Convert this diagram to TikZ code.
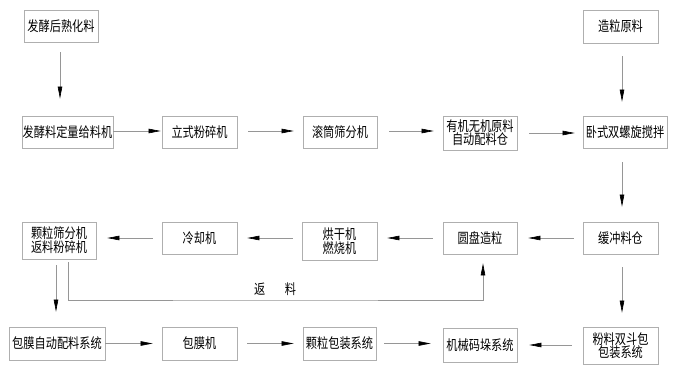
\documentclass[tikz,border=0pt]{standalone}
\usepackage{fontspec}
\newfontfamily\cjk[FakeStretch=0.8]{Noto Sans CJK SC}
\usetikzlibrary{arrows.meta}
\definecolor{boxc}{RGB}{175,175,175}
\definecolor{linec}{RGB}{150,150,150}
\tikzset{
  bx/.style={draw=boxc,line width=0.7pt,inner sep=0pt,align=center,
    font=\cjk\fontsize{14}{14}\selectfont},
  arr/.style={draw=linec,line width=0.6pt,
    -{Triangle[length=12pt,width=4.5pt,color=black,fill=black]}},
  ln/.style={draw=linec,line width=0.6pt}
}
\begin{document}
\begin{tikzpicture}[x=1pt,y=-1pt]
\useasboundingbox (0,0) rectangle (677,382);
\fill[white] (0,0) rectangle (677,382);
% row 1
\node[bx,minimum width=74pt,minimum height=32pt] (n1) at (61,26) {发酵后熟化料};
\node[bx,minimum width=75pt,minimum height=33pt] (n2) at (620.5,26.5) {造粒原料};
% row 2
\node[bx,minimum width=91pt,minimum height=32pt] (r2a) at (67.5,132) {发酵料定量给料机};
\node[bx,minimum width=75pt,minimum height=32pt] (r2b) at (199.5,132) {立式粉碎机};
\node[bx,minimum width=74pt,minimum height=32pt] (r2c) at (340,132) {滚筒筛分机};
\node[bx,minimum width=74pt,minimum height=34pt] (r2d) at (480,133) {有机无机原料\\[-1pt]自动配料仓};
\node[bx,minimum width=84pt,minimum height=32pt] (r2e) at (625,132) {卧式双螺旋搅拌};
% row 3
\node[bx,minimum width=74pt,minimum height=37pt] (r3a) at (59,240.5) {颗粒筛分机\\返料粉碎机};
\node[bx,minimum width=75pt,minimum height=32pt] (r3b) at (199.5,238) {冷却机};
\node[bx,minimum width=75pt,minimum height=38pt] (r3c) at (339.5,241) {烘干机\\燃烧机};
\node[bx,minimum width=74pt,minimum height=32pt] (r3d) at (480,238) {圆盘造粒};
\node[bx,minimum width=75pt,minimum height=32pt] (r3e) at (620.5,238) {缓冲料仓};
% row 4
\node[bx,minimum width=96pt,minimum height=33pt] (r4a) at (57,343.5) {包膜自动配料系统};
\node[bx,minimum width=75pt,minimum height=33pt] (r4b) at (199.5,343.5) {包膜机};
\node[bx,minimum width=73pt,minimum height=33pt] (r4c) at (339.5,343.5) {颗粒包装系统};
\node[bx,minimum width=74pt,minimum height=34pt] (r4d) at (480,345) {机械码垛系统};
\node[bx,minimum width=75pt,minimum height=37pt] (r4e) at (620.5,345.5) {粉料双斗包\\[-1pt]包装系统};
% vertical arrows
\draw[arr,shorten <=10pt,shorten >=17pt] ([xshift=-1pt]n1.south) -- ([xshift=-1pt]n1.south |- r2a.north);
\draw[arr,shorten <=13pt,shorten >=14pt] ([xshift=1.5pt]n2.south) -- ([xshift=1.5pt]n2.south |- r2e.north);
\draw[arr,shorten <=14pt,shorten >=15pt] ([xshift=-3pt]r2e.south) -- ([xshift=-3pt]r2e.south |- r3e.north);
\draw[arr,shorten <=13pt,shorten >=14pt] ([xshift=1.5pt]r3e.south) -- ([xshift=1.5pt]r3e.south |- r4e.north);
\draw[arr,shorten <=6pt,shorten >=15pt] ([xshift=-3pt]r3a.south) -- ([xshift=-3pt]r3a.south |- r4a.north);
% return loop
\coordinate (ret) at (275,300);
\draw[arr,shorten <=3pt,shorten >=9pt] ([xshift=9pt]r3a.south) |- (ret) -| ([xshift=3pt]r3d.south);
\node[font=\cjk\fontsize{14}{14}\selectfont,inner sep=0pt] (retl) at (275,289) {返\hspace{1.4em}料};
% row 2 arrows
\draw[arr,shorten <=0pt,shorten >=1pt] ([yshift=1pt]r2a.east) -- ([yshift=1pt]r2a.east -| r2b.west);
\draw[arr,shorten <=11pt,shorten >=9pt] ([yshift=1pt]r2b.east) -- ([yshift=1pt]r2b.east -| r2c.west);
\draw[arr,shorten <=12pt,shorten >=9pt] ([yshift=1pt]r2c.east) -- ([yshift=1pt]r2c.east -| r2d.west);
\draw[arr,shorten <=12pt,shorten >=8pt] (r2d.east) -- (r2d.east -| r2e.west);
% row 3 arrows
\draw[arr,shorten <=9pt,shorten >=11pt] (r3e.west) -- (r3e.west -| r3d.east);
\draw[arr,shorten <=10pt,shorten >=10pt] (r3d.west) -- (r3d.west -| r3c.east);
\draw[arr,shorten <=9pt,shorten >=10pt] (r3c.west |- r3b.east) -- (r3b.east);
\draw[arr,shorten <=9pt,shorten >=11pt] (r3b.west) -- (r3b.west -| r3a.east);
% row 4 arrows
\draw[arr,shorten <=0pt,shorten >=9pt] (r4a.east) -- (r4a.east -| r4b.west);
\draw[arr,shorten <=10pt,shorten >=9pt] (r4b.east) -- (r4b.east -| r4c.west);
\draw[arr,shorten <=8pt,shorten >=12pt] (r4c.east) -- (r4c.east -| r4d.west);
\draw[arr,shorten <=11pt,shorten >=12pt] (r4e.west |- r4d.east) -- (r4d.east);
\end{tikzpicture}
\end{document}
